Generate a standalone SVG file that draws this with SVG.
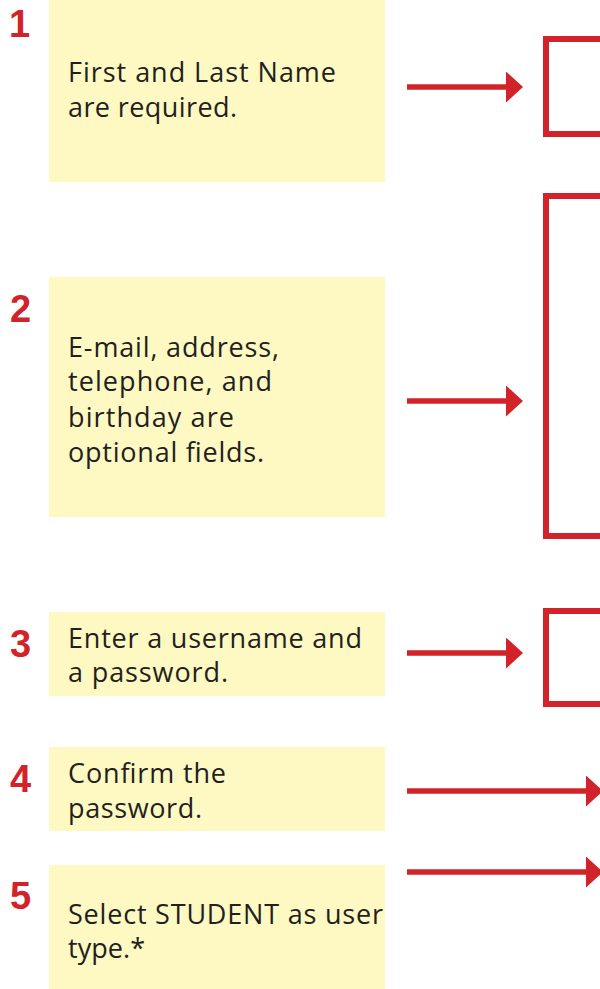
<svg xmlns="http://www.w3.org/2000/svg" width="600" height="989" viewBox="0 0 600 989">
  <style>
    .note { fill: #fef8c2; }
    .txt { font-family: "Open Sans", "Liberation Sans", sans-serif; font-size: 27px; fill: #231f20; }
    .num { font-family: "Liberation Sans", "Open Sans", sans-serif; font-size: 38px; font-weight: bold; fill: #d2232a; }
    .frame { fill: none; stroke: #d2232a; stroke-width: 6; }
    .conn { stroke: #d2232a; stroke-width: 5.5; fill: none; }
  </style>
  <defs>
    <marker id="head" viewBox="0 0 17 31" refX="0" refY="15.5" markerWidth="17" markerHeight="31" markerUnits="userSpaceOnUse" orient="auto">
      <path d="M0,0 L17,15.5 L0,31 Z" fill="#d2232a"/>
    </marker>
  </defs>
  <rect width="600" height="989" fill="#ffffff"/>

  <g id="step1">
    <rect class="note" x="49" y="0" width="336" height="182"/>
    <text class="num" x="9" y="37">1</text>
    <text class="txt" x="68" y="82" textLength="268" lengthAdjust="spacing">First and Last Name</text>
    <text class="txt" x="68" y="117" textLength="169" lengthAdjust="spacing">are required.</text>
  </g>
  <g id="step2">
    <rect class="note" x="49" y="277" width="336" height="240"/>
    <text class="num" x="10" y="322">2</text>
    <text class="txt" x="68" y="357" textLength="211" lengthAdjust="spacing">E-mail, address,</text>
    <text class="txt" x="68" y="391" textLength="204" lengthAdjust="spacing">telephone, and</text>
    <text class="txt" x="68" y="427" textLength="166" lengthAdjust="spacing">birthday are</text>
    <text class="txt" x="68" y="462" textLength="196" lengthAdjust="spacing">optional fields.</text>
  </g>
  <g id="step3">
    <rect class="note" x="49" y="612" width="336" height="84"/>
    <text class="num" x="10" y="657">3</text>
    <text class="txt" x="68" y="648" textLength="294" lengthAdjust="spacing">Enter a username and</text>
    <text class="txt" x="68" y="682" textLength="160" lengthAdjust="spacing">a password.</text>
  </g>
  <g id="step4">
    <rect class="note" x="49" y="747" width="336" height="84"/>
    <text class="num" x="10" y="792">4</text>
    <text class="txt" x="68" y="783" textLength="158" lengthAdjust="spacing">Confirm the</text>
    <text class="txt" x="68" y="818" textLength="134" lengthAdjust="spacing">password.</text>
  </g>
  <g id="step5">
    <rect class="note" x="49" y="865" width="336" height="124"/>
    <text class="num" x="10" y="909">5</text>
    <text class="txt" x="68" y="924" textLength="315" lengthAdjust="spacing">Select STUDENT as user</text>
    <text class="txt" x="68" y="958" textLength="77" lengthAdjust="spacing">type.*</text>
  </g>

  <g id="frame1"><rect class="frame" x="546" y="39" width="100" height="95"/></g>
  <g id="frame2"><rect class="frame" x="546" y="196" width="100" height="340"/></g>
  <g id="frame3"><rect class="frame" x="546" y="611" width="100" height="93"/></g>

  <g id="connectors">
    <line class="conn" x1="407" y1="87" x2="506" y2="87" marker-end="url(#head)"/>
    <line class="conn" x1="407" y1="401" x2="506" y2="401" marker-end="url(#head)"/>
    <line class="conn" x1="407" y1="653" x2="506" y2="653" marker-end="url(#head)"/>
    <line class="conn" x1="407" y1="791" x2="586" y2="791" marker-end="url(#head)"/>
    <line class="conn" x1="407" y1="872" x2="586" y2="872" marker-end="url(#head)"/>
  </g>
</svg>
